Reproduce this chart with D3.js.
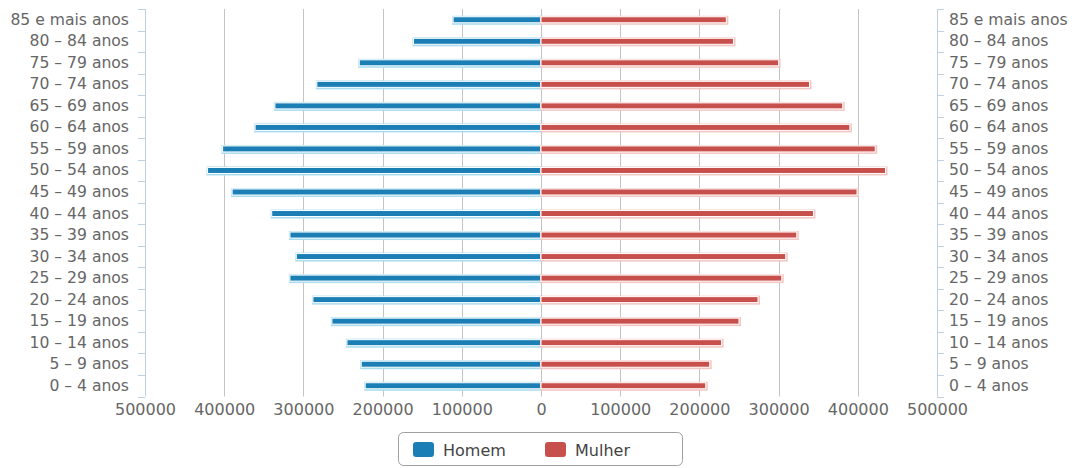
<!DOCTYPE html>
<html>
<head>
<meta charset="utf-8">
<script src="https://cdn.jsdelivr.net/npm/d3@7/dist/d3.min.js"></script>
<style>
  html, body { margin: 0; padding: 0; background: #fff; }
  svg { display: block; font-family: "DejaVu Sans", Verdana, sans-serif; }
</style>
</head>
<body>
<svg id="chart" width="1076" height="468"></svg>
<script>
// Age groups, oldest at the top
const categories = [
  "85 e mais anos", "80 – 84 anos", "75 – 79 anos", "70 – 74 anos",
  "65 – 69 anos", "60 – 64 anos", "55 – 59 anos", "50 – 54 anos",
  "45 – 49 anos", "40 – 44 anos", "35 – 39 anos", "30 – 34 anos",
  "25 – 29 anos", "20 – 24 anos", "15 – 19 anos", "10 – 14 anos",
  "5 – 9 anos", "0 – 4 anos"
];
// Population by sex, same order as categories
const homem = [
  111000, 161000, 229500, 283000, 336000, 361000, 402000, 421000,
  390000, 340000, 317000, 309000, 317000, 288000, 264000, 245000,
  227000, 222000
];
const mulher = [
  234000, 243000, 300000, 339000, 381000, 390000, 422000, 435000,
  399000, 344000, 323000, 309000, 304000, 274000, 250000, 228000,
  213000, 208000
];
const tickValues = [-500000, -400000, -300000, -200000, -100000, 0, 100000, 200000, 300000, 400000, 500000];
const seriesNames = ["Homem", "Mulher"];
const colors = { Homem: "#1b7fb6", Mulher: "#c8504c" };
const halo = { Homem: "#a9dcef", Mulher: "#f2c6c2" };

const svg = d3.select("#chart");
const plotLeft = 145, plotRight = 937, plotTop = 9, plotBottom = 396.5;

const x = d3.scaleLinear().domain([-500000, 500000]).range([plotLeft, plotRight]);
const y = d3.scaleBand().domain(categories).range([plotTop, plotBottom]);
const barH = 6;

// vertical grid lines
svg.append("g").selectAll("line")
  .data(tickValues.filter(v => Math.abs(v) < 500000))
  .join("line")
  .attr("x1", d => Math.round(x(d)) + 0.5).attr("x2", d => Math.round(x(d)) + 0.5)
  .attr("y1", plotTop).attr("y2", plotBottom)
  .attr("stroke", "#c4c4c4").attr("stroke-width", 1);

// category axes on both sides
function categoryAxis(xPos, side) {
  const g = svg.append("g");
  g.append("line")
    .attr("x1", xPos + 0.5).attr("x2", xPos + 0.5)
    .attr("y1", plotTop).attr("y2", plotBottom)
    .attr("stroke", "#c0d0e0");
  const bounds = categories.map(c => y(c)).concat([plotBottom]);
  g.selectAll("line.tick").data(bounds).join("line")
    .attr("class", "tick")
    .attr("x1", xPos).attr("x2", xPos + side * 7)
    .attr("y1", d => Math.round(d) + 0.5).attr("y2", d => Math.round(d) + 0.5)
    .attr("stroke", "#c0d0e0");
  const axis = side < 0 ? d3.axisLeft(y) : d3.axisRight(y);
  const ag = svg.append("g")
    .attr("transform", `translate(${xPos},0)`)
    .call(axis.tickSize(0).tickPadding(side < 0 ? 16 : 12));
  ag.select(".domain").remove();
  ag.selectAll("text")
    .attr("fill", "#666").attr("font-size", "15.6px")
    .attr("font-family", "DejaVu Sans, sans-serif");
}
categoryAxis(plotLeft, -1);
categoryAxis(plotRight, 1);

// value axis labels
const xa = svg.append("g")
  .attr("transform", `translate(0,${plotBottom})`)
  .call(d3.axisBottom(x).tickValues(tickValues).tickFormat(d => String(Math.abs(d))).tickSize(0).tickPadding(7));
xa.select(".domain").remove();
xa.selectAll("text").attr("fill", "#666").attr("font-size", "16px")
  .attr("font-family", "DejaVu Sans, sans-serif");

// bars
const rows = categories.map((c, i) => ({ c, Homem: -homem[i], Mulher: mulher[i] }));
seriesNames.forEach(name => {
  const g = svg.append("g");
  const xs = d => Math.min(x(0), x(d[name]));
  const ws = d => Math.abs(x(d[name]) - x(0));
  g.selectAll("rect.halo").data(rows).join("rect")
    .attr("class", "halo")
    .attr("x", d => xs(d) - 1).attr("width", d => ws(d) + 3)
    .attr("y", d => y(d.c) + y.bandwidth() / 2 - barH / 2 - 1)
    .attr("height", barH + 3)
    .attr("fill", halo[name]);
  g.selectAll("rect.bar").data(rows).join("rect")
    .attr("class", "bar")
    .attr("x", d => xs(d)).attr("width", d => ws(d))
    .attr("y", d => y(d.c) + y.bandwidth() / 2 - barH / 2)
    .attr("height", barH)
    .attr("fill", colors[name])
    .attr("stroke", "#fff").attr("stroke-width", 1);
});

// legend
const lg = svg.append("g");
lg.append("rect")
  .attr("x", 398.5).attr("y", 432.5).attr("width", 284).attr("height", 33)
  .attr("rx", 5).attr("fill", "#fff").attr("stroke", "#a0a0a0");
const legendX = [413, 545];
seriesNames.forEach((name, i) => {
  lg.append("rect")
    .attr("x", legendX[i]).attr("y", 442).attr("width", 21).attr("height", 15)
    .attr("rx", 3).attr("fill", colors[name]);
  lg.append("text")
    .attr("x", legendX[i] + 30).attr("y", 456)
    .attr("font-size", "16px").attr("fill", "#444")
    .attr("font-family", "DejaVu Sans, sans-serif")
    .text(name);
});
</script>
</body>
</html>
